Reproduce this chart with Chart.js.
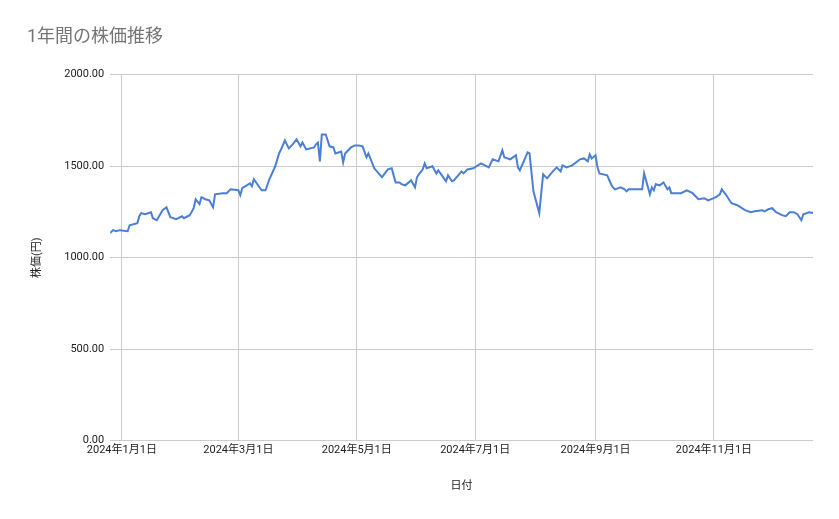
<!DOCTYPE html>
<html><head><meta charset="utf-8">
<script src="https://cdn.jsdelivr.net/npm/chart.js@4"></script>
<style>html,body{margin:0;padding:0;background:#fff}#w{width:839px;height:519px}</style>
</head><body><div id="w"><canvas id="c"></canvas></div>
<script>
// days since 2023-12-26
const dayOffsets = [0,1.5,3,5,9,10,14,15,16,18,21,22,24,27,29,31,34,37,38,41,43,44,46,47,49,51,53,54,58,60,62,66,67,68,72,73,74,78,80,82,85,87,88,90,92,94,96,98,99,101,105,106,107,108,109,111,113,115,116,119,120,121,124,126,128,130,132,133,136,140,143,145,147,149,150,152,155,157,158,159,161,162,163,166,168,169,173,174,176,177,181,182,184,187,191,193,195,197,200,202,203,206,209,210,211,215,216,218,221,223,225,228,230,232,233,235,238,242,244,246,247,248,250,251,252,256,258,259,260,263,265,266,267,271,274,275,278,279,280,281,283,285,287,288,289,294,297,300,303,306,308,312,314,315,317,320,323,327,330,332,336,337,339,341,343,346,348,350,352,354,356,357,360,362];
const prices = [1134,1150,1144,1150,1144,1177,1188,1226,1243,1237,1248,1215,1204,1259,1275,1221,1210,1226,1215,1232,1270,1319,1292,1330,1319,1313,1275,1346,1352,1352,1373,1368,1341,1379,1406,1390,1428,1368,1368,1428,1499,1569,1591,1640,1597,1619,1646,1608,1629,1591,1602,1619,1629,1526,1673,1673,1608,1602,1569,1580,1520,1569,1602,1613,1613,1608,1548,1569,1488,1439,1482,1488,1411,1411,1401,1395,1422,1384,1439,1455,1482,1515,1488,1499,1460,1477,1417,1450,1417,1422,1471,1460,1482,1488,1515,1504,1493,1537,1526,1586,1548,1537,1559,1493,1477,1575,1569,1362,1243,1455,1433,1471,1493,1471,1504,1493,1504,1537,1542,1526,1564,1542,1559,1493,1460,1450,1401,1384,1373,1384,1373,1362,1373,1373,1373,1460,1346,1384,1368,1401,1395,1411,1373,1384,1352,1352,1368,1352,1319,1324,1313,1330,1346,1373,1346,1297,1286,1259,1248,1253,1259,1253,1264,1270,1248,1232,1226,1248,1248,1237,1204,1237,1248,1243];
const tickDays = [6,66,127,188,250,311];
const tickLabels = ['2024年1月1日','2024年3月1日','2024年5月1日','2024年7月1日','2024年9月1日','2024年11月1日'];
const yTicks = [0,500,1000,1500,2000];

const FONT = "Roboto, 'Noto Sans CJK JP', sans-serif";
new Chart(document.getElementById('c'), {
  type: 'line',
  data: { datasets: [{
    data: dayOffsets.map((d,i)=>({x:d,y:prices[i]})),
    borderColor:'#4a7fd3', borderWidth:2, pointRadius:0, tension:0, fill:false
  }]},
  options: {
    responsive:true, maintainAspectRatio:false, animation:false,
    layout:{padding:{left:27,right:26,top:13,bottom:22}},
    plugins:{
      legend:{display:false}, tooltip:{enabled:false},
      title:{display:true,text:'1年間の株価推移',align:'start',color:'#757575',
        font:{family:FONT,size:18,weight:'normal'},padding:{top:14,bottom:26}}
    },
    scales:{
      x:{type:'linear',min:0,max:362,
        afterBuildTicks:s=>{s.ticks=tickDays.map(v=>({value:v}));},
        ticks:{autoSkip:false,maxRotation:0,color:'#222',font:{family:FONT,size:11},
          callback:(v)=>tickLabels[tickDays.indexOf(v)]},
        grid:{color:'#cccccc',drawTicks:false},border:{display:false},
        title:{display:true,text:'日付',color:'#222',font:{family:FONT,size:11},padding:{top:20}}
      },
      y:{min:0,max:2000,
        afterBuildTicks:s=>{s.ticks=yTicks.map(v=>({value:v}));},
        ticks:{color:'#222',font:{family:FONT,size:11},padding:6,callback:v=>v.toFixed(2)},
        grid:{color:'#cccccc',drawTicks:false},border:{display:false},
        title:{display:true,text:'株価(円)',color:'#222',font:{family:FONT,size:11},padding:{bottom:14}}
      }
    }
  }
});
</script></body></html>
